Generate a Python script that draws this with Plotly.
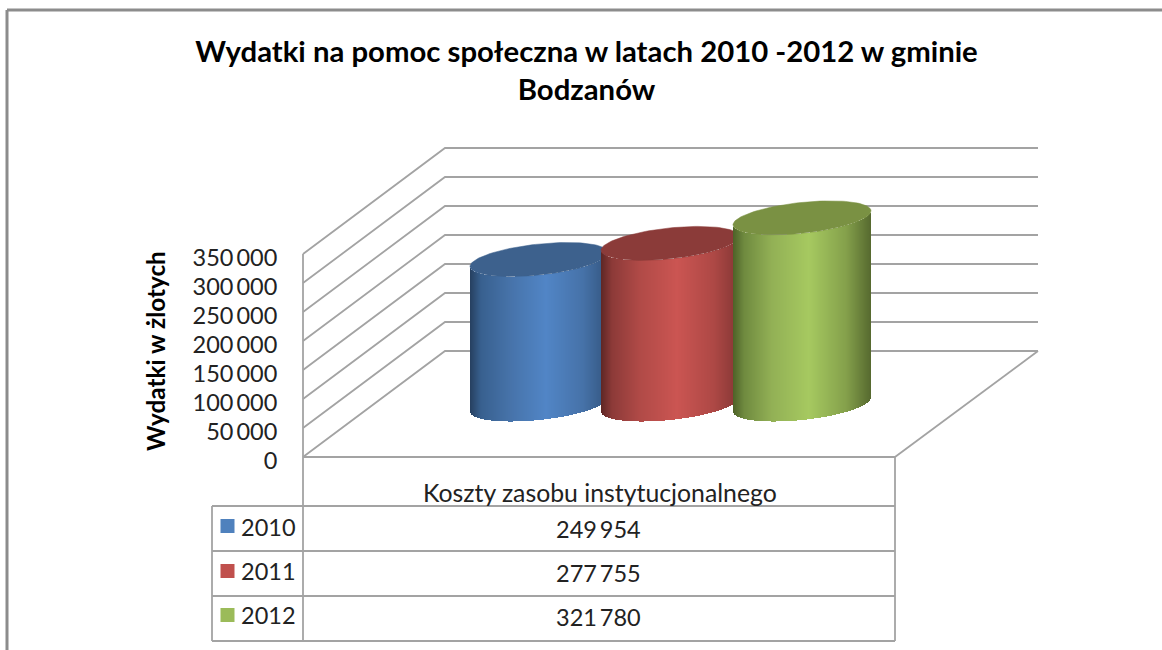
import math
import plotly.graph_objects as go

# ---------- data ----------
CATEGORY = "Koszty zasobu instytucjonalnego"
YEARS = ["2010", "2011", "2012"]
VALUES = [249954, 277755, 321780]
TICK_VALUES = [0, 50000, 100000, 150000, 200000, 250000, 300000, 350000]
TICK_LABELS = ["0", "50\u2009000", "100\u2009000", "150\u2009000", "200\u2009000", "250\u2009000", "300\u2009000", "350\u2009000"]
TITLE = "Wydatki na pomoc społeczna w latach 2010 -2012 w gminie<br>Bodzanów"
Y_TITLE = "Wydatki w żlotych"

# ---------- styling / layout ----------
W, H = 1162, 650
FONT = "Lato"
PX_PER_UNIT = 29.0 / 50000        # vertical scale of the value axis
Y0_PX = 457                       # pixel row of value 0 at the front wall
GRID = "#a3a3a3"
KEYS = ["#4f81bd", "#c0504d", "#9bbb59"]
# gradient stops (position 0..1, colour)
GRADS = [
    [(0, "#26405f"), (0.08, "#38608f"), (0.28, "#4672a8"), (0.55, "#5185c6"), (0.82, "#4672a8"), (1, "#33557f")],
    [(0, "#5e2624"), (0.08, "#8c3a38"), (0.28, "#b04a47"), (0.55, "#cb5552"), (0.82, "#ad4845"), (1, "#843634")],
    [(0, "#4d6128"), (0.08, "#6f8a3f"), (0.28, "#92b055"), (0.55, "#a6c960"), (0.82, "#84a04b"), (1, "#56692f")],
]
TOPS = ["#3d618d", "#8b3b39", "#7a9143"]
CYL_LEFT = [470, 601, 733]
CYL_WIDTH = 138
FLOOR_CY_PX = 52.5   # depth of the cylinder base centre above the front edge
TILT_PX, MINOR_PX = 7.0, 15.5
DEPTH_DX, DEPTH_DY = 142, 106
WALL_L, WALL_R, FRONT_R = 303, 1038, 895


def hex2rgb(c):
    return tuple(int(c[i:i + 2], 16) for i in (1, 3, 5))


def grad(stops, t):
    for (p0, c0), (p1, c1) in zip(stops, stops[1:]):
        if t <= p1:
            f = (t - p0) / (p1 - p0)
            a, b = hex2rgb(c0), hex2rgb(c1)
            return "rgb(%d,%d,%d)" % tuple(round(a[i] + (b[i] - a[i]) * f) for i in range(3))
    return stops[-1][1]


def px2val(dpx):
    return dpx / PX_PER_UNIT


Y_RANGE = [px2val(Y0_PX - H), px2val(Y0_PX)]
fig = go.Figure()

# grid: side wall + back wall, one polyline per tick
for v in TICK_VALUES:
    fig.add_trace(go.Scatter(
        x=[WALL_L, WALL_L + DEPTH_DX, WALL_R],
        y=[v, v + px2val(DEPTH_DY), v + px2val(DEPTH_DY)],
        mode="lines", line=dict(color=GRID, width=1.8), hoverinfo="skip", showlegend=False))
# front wall vertical, floor edges
fig.add_trace(go.Scatter(x=[WALL_L, WALL_L], y=[TICK_VALUES[0], TICK_VALUES[-1]], mode="lines",
                         line=dict(color=GRID, width=1.8), hoverinfo="skip", showlegend=False))
fig.add_trace(go.Scatter(x=[WALL_R, FRONT_R], y=[px2val(DEPTH_DY), 0], mode="lines",
                         line=dict(color=GRID, width=1.8), hoverinfo="skip", showlegend=False))

# cylinders: each on its own overlay axis pair, so later ones cover earlier ones
base_cy = px2val(FLOOR_CY_PX)
for i, (val, left) in enumerate(zip(VALUES, CYL_LEFT)):
    n = i + 2
    a = CYL_WIDTH / 2
    cx = left + a
    xs, bases, cols = [], [], []
    for k in range(CYL_WIDTH):
        xc = left + k + 0.5
        u = (xc - cx) / a
        off = -TILT_PX * u + MINOR_PX * math.sqrt(max(0, 1 - u * u))
        xs.append(xc)
        bases.append(base_cy - px2val(off))
        cols.append(grad(GRADS[i], (k + 0.5) / CYL_WIDTH))
    fig.add_trace(go.Bar(x=xs, y=[val] * CYL_WIDTH, base=bases, width=1.0, name=YEARS[i],
                         marker=dict(color=cols, line=dict(width=0)), showlegend=False,
                         xaxis=f"x{n}", yaxis=f"y{n}"))
    ex, ey = [], []
    for k in range(121):
        t = 2 * math.pi * k / 120
        ex.append(cx + a * math.cos(t))
        ey.append(val + base_cy - px2val(-TILT_PX * math.cos(t) + MINOR_PX * math.sin(t)))
    fig.add_trace(go.Scatter(x=ex, y=ey, mode="lines", fill="toself", fillcolor=TOPS[i],
                             line=dict(color=TOPS[i], width=0.5), hoverinfo="skip", showlegend=False,
                             xaxis=f"x{n}", yaxis=f"y{n}"))

layout = dict(
    width=W, height=H, autosize=False,
    margin=dict(l=0, r=0, t=0, b=0),
    paper_bgcolor="white", plot_bgcolor="rgba(0,0,0,0)",
    showlegend=False, barmode="overlay", bargap=0,
    font=dict(family=FONT, color="#111111"),
    title=dict(text=TITLE, x=586.5 / W, xanchor="center", xref="paper", y=1 - 62 / H, yanchor="top", yref="container",
               font=dict(family=FONT, size=29.3, color="#000000", weight="bold")),
    xaxis=dict(range=[0, W], domain=[0, 1], visible=False, fixedrange=True),
    yaxis=dict(range=Y_RANGE, domain=[0, 1], anchor="free", position=WALL_L / W, side="left",
               tickmode="array", tickvals=TICK_VALUES, ticktext=TICK_LABELS,
               showgrid=False, zeroline=False, showline=False,
               ticks="outside", ticklen=21, tickcolor="rgba(0,0,0,0)", ticklabelshift=4,
               tickfont=dict(family=FONT, size=23.5, color="#222222"), fixedrange=True),
)
for n in (2, 3, 4):
    layout[f"xaxis{n}"] = dict(range=[0, W], domain=[0, 1], visible=False, overlaying="x",
                               anchor=f"y{n}", fixedrange=True)
    layout[f"yaxis{n}"] = dict(range=Y_RANGE, domain=[0, 1], visible=False, overlaying="y",
                               anchor=f"x{n}", fixedrange=True)
fig.update_layout(**layout)

# ---------- frame and data table (pixel -> paper coordinates) ----------
def X(p): return p / W
def Y(p): return 1 - p / H


def line(x0, y0, x1, y1, color=GRID, width=1.8):
    fig.add_shape(type="line", xref="paper", yref="paper", x0=X(x0), y0=Y(y0), x1=X(x1), y1=Y(y1),
                  line=dict(color=color, width=width))


def text(x, y, s, size, anchor="center", angle=0, bold=False, color="#222222"):
    fig.add_annotation(xref="paper", yref="paper", x=X(x), y=Y(y), text=s, showarrow=False,
                       xanchor=anchor, yanchor="middle", textangle=angle, align="center",
                       font=dict(family=FONT, size=size, color=color, weight="bold" if bold else "normal"))


line(7, 10, W, 10, "#8c8c8c", 3)
line(7, 10, 7, H, "#8c8c8c", 3)

ROWS_Y = [506, 551, 596, 641]
line(WALL_L, 457, FRONT_R, 457)
line(WALL_L, 457, WALL_L, 641)
line(FRONT_R, 457, FRONT_R, 641)
line(212, 506, 212, 641)
for ry in ROWS_Y:
    line(212, ry, FRONT_R, ry)

text(600, 492, CATEGORY, 24.8)
TEXT_ROWS = [529, 573, 617]
KEY_ROWS = [526, 571, 615]
for yr, val, col, ty, ky in zip(YEARS, VALUES, KEYS, TEXT_ROWS, KEY_ROWS):
    fig.add_shape(type="rect", xref="paper", yref="paper", x0=X(220.5), x1=X(234.5), y0=Y(ky - 7), y1=Y(ky + 7),
                  fillcolor=col, line=dict(width=0))
    text(268, ty - 2, yr, 23.5)
    text(598, ty, f"{val:,}".replace(",", "\u2009"), 23.5)

text(155, 351, Y_TITLE, 24.3, angle=-90, bold=True, color="#000000")

fig.write_html("out.html", config=dict(displayModeBar=False),
               post_script="document.body.style.margin='0';")
